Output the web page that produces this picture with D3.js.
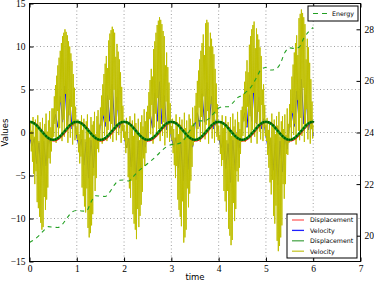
<!DOCTYPE html>
<html>
<head>
<meta charset="utf-8">
<script src="https://d3js.org/d3.v7.min.js"></script>
<style>
  body { margin: 0; background: #fff; }
  .label { font-family: "DejaVu Sans", sans-serif; font-size: 8.5px; }
  .leg { font-family: "DejaVu Sans", sans-serif; font-size: 6.3px; }
</style>
</head>
<body>
<div id="chart"></div>
<script>
// sample steps: displacement / blue velocity 0.05 s, yellow velocity 0.0125 s, energy 0.1 s
var xTicks = [0, 1, 2, 3, 4, 5, 6, 7];
var yTicks = [-15, -10, -5, 0, 5, 10, 15];
var y2Ticks = [20, 22, 24, 26, 28];

var dispRed = [
  1.23, 1.20, 1.08, 0.86, 0.58, 0.25, -0.09, -0.40, -0.66, -0.84, -0.93, -0.90, -0.78, -0.56, -0.28, 0.05, 0.39, 0.70, 0.96, 1.14,
  1.23, 1.20, 1.08, 0.86, 0.58, 0.25, -0.09, -0.40, -0.66, -0.84, -0.93, -0.90, -0.78, -0.56, -0.28, 0.05, 0.39, 0.70, 0.96, 1.14,
  1.23, 1.20, 1.08, 0.86, 0.58, 0.25, -0.09, -0.40, -0.66, -0.84, -0.93, -0.90, -0.78, -0.56, -0.28, 0.05, 0.39, 0.70, 0.96, 1.14,
  1.23, 1.20, 1.08, 0.86, 0.58, 0.25, -0.09, -0.40, -0.66, -0.84, -0.93, -0.90, -0.78, -0.56, -0.28, 0.05, 0.39, 0.70, 0.96, 1.14,
  1.23, 1.20, 1.08, 0.86, 0.58, 0.25, -0.09, -0.40, -0.66, -0.84, -0.93, -0.90, -0.78, -0.56, -0.28, 0.05, 0.39, 0.70, 0.96, 1.14,
  1.23, 1.20, 1.08, 0.86, 0.58, 0.25, -0.09, -0.40, -0.66, -0.84, -0.93, -0.90, -0.78, -0.56, -0.28, 0.05, 0.39, 0.70, 0.96, 1.14,
  1.23
];
var dispGreen = [
  1.25, 1.20, 1.05, 0.82, 0.52, 0.20, -0.12, -0.42, -0.65, -0.80, -0.85, -0.80, -0.65, -0.42, -0.12, 0.20, 0.52, 0.82, 1.05, 1.20,
  1.25, 1.20, 1.05, 0.82, 0.52, 0.20, -0.12, -0.42, -0.65, -0.80, -0.85, -0.80, -0.65, -0.42, -0.12, 0.20, 0.52, 0.82, 1.05, 1.20,
  1.25, 1.20, 1.05, 0.82, 0.52, 0.20, -0.12, -0.42, -0.65, -0.80, -0.85, -0.80, -0.65, -0.42, -0.12, 0.20, 0.52, 0.82, 1.05, 1.20,
  1.25, 1.20, 1.05, 0.82, 0.52, 0.20, -0.12, -0.42, -0.65, -0.80, -0.85, -0.80, -0.65, -0.42, -0.12, 0.20, 0.52, 0.82, 1.05, 1.20,
  1.25, 1.20, 1.05, 0.82, 0.52, 0.20, -0.12, -0.42, -0.65, -0.80, -0.85, -0.80, -0.65, -0.42, -0.12, 0.20, 0.52, 0.82, 1.05, 1.20,
  1.25, 1.20, 1.05, 0.82, 0.52, 0.20, -0.12, -0.42, -0.65, -0.80, -0.85, -0.80, -0.65, -0.42, -0.12, 0.20, 0.52, 0.82, 1.05, 1.20,
  1.25
];
var velBlue = [
  -0.4, -1.6, -0.7, -3.6, -1.2, -5.0, -1.0, -3.9, -0.4, -1.5, 1.0, 2.1, 0.6, 4.2, 1.2, 5.4, 0.9, 3.9, 0.4, 1.5,
  -0.5, -1.7, -0.8, -3.8, -1.1, -5.3, -0.9, -4.1, -0.3, -1.6, 1.1, 2.2, 0.7, 4.3, 1.3, 5.6, 0.8, 4.1, 0.5, 1.4,
  -0.4, -1.8, -0.7, -4.0, -1.3, -5.5, -1.0, -4.2, -0.4, -1.7, 1.0, 2.3, 0.5, 4.6, 1.3, 5.9, 1.0, 4.3, 0.3, 1.6,
  -0.6, -1.7, -0.6, -4.1, -1.1, -5.6, -0.8, -4.3, -0.3, -1.7, 0.9, 2.3, 0.7, 4.5, 1.2, 5.8, 0.9, 4.2, 0.4, 1.5,
  -0.5, -1.8, -0.8, -4.2, -1.3, -5.8, -0.9, -4.4, -0.4, -1.8, 1.0, 2.3, 0.6, 4.4, 1.3, 5.7, 1.0, 4.1, 0.4, 1.6,
  -0.4, -1.9, -0.7, -4.4, -1.2, -6.1, -1.0, -4.6, -0.4, -1.9, 1.1, 2.5, 0.7, 4.8, 1.4, 6.2, 1.0, 4.4, 0.3, 1.7,
  -0.4
];
var velYellow = [
  0.8, -0.8, 1.2, -2.2, 0.2, -3.4, 1.8, -4.8, -0.5, -6.0, 1.5, -4.5, 0.6, -8.1, 2.0, -8.8, -1.0, -9.8, 1.2, -10.5,
  0.4, -11.3, 1.7, -11.0, -0.3, -7.5, 1.0, -9.0, 2.2, -7.8, 0.1, -6.4, 1.4, -3.0, 2.5, -3.6, 0.6, -2.2, 2.8, -1.0,
  2.8, -0.5, 4.2, 1.0, 5.5, -1.2, 6.6, 2.5, 7.8, -0.8, 8.7, 0.5, 9.5, 3.5, 10.4, -1.0, 11.2, 1.5, 11.6, -0.5,
  12.0, 4.5, 11.7, 0.2, 11.3, -1.2, 10.6, 2.0, 10.0, -0.6, 9.2, 3.0, 8.3, -1.4, 6.8, 0.8, 5.2, -0.9, 3.0, -0.3,

  0.6, -0.85, 1.5, -2.3, -0.2, -3.6, 1.1, -2.8, 2.0, -6.4, 0.3, -7.4, 1.6, -8.6, -0.8, -9.3, 1.3, -6.5, 2.1, -11.1,
  0.5, -12.2, -0.6, -11.7, 1.8, -10.8, 0.9, -9.5, 1.3, -5.0, 2.4, -6.8, -0.2, -5.3, 1.9, -1.9, 2.6, -2.3, 0.9, -1.1,
  2.9, 0.8, 4.3, -1.3, 5.6, 2.0, 6.8, -0.4, 8.0, 1.2, 8.9, -1.0, 7.5, 0.3, 10.7, 3.8, 11.5, -0.7, 11.9, 1.0,
  12.3, -1.1, 12.0, 5.0, 11.6, 0.5, 8.8, -0.9, 10.3, 2.6, 9.4, -0.3, 8.5, 1.4, 7.0, -1.2, 5.3, 0.2, 3.1, -0.6,

  0.9, -0.9, 0.1, -2.4, 1.7, -1.8, 1.0, -5.2, -0.7, -6.5, 1.9, -7.6, 0.8, -5.6, 1.4, -9.5, -0.4, -10.6, 2.2, -11.3,
  1.1, -12.4, 0.2, -8.9, 1.6, -11.0, -0.9, -9.7, 1.2, -8.4, 2.0, -6.9, 0.7, -3.0, 2.7, -3.9, 1.3, -2.4, 2.4, -1.1,
  3.1, -0.8, 4.7, 1.6, 6.1, -0.2, 7.4, 3.2, 6.5, -1.3, 9.7, 0.6, 10.6, 2.2, 11.6, -0.5, 12.5, 4.0, 13.0, 0.4,
  13.4, -1.0, 13.1, 2.8, 12.6, -0.4, 11.8, 1.2, 11.2, -1.5, 7.8, 3.6, 9.3, -0.6, 7.6, 0.9, 5.8, -1.1, 3.4, -0.2,

  0.7, -0.9, 1.6, -2.4, 0.4, -3.8, -0.6, -5.3, 2.1, -3.9, 1.2, -7.8, -0.2, -9.0, 1.8, -9.8, 0.9, -10.9, 1.5, -8.0,
  -0.7, -12.8, 2.3, -12.2, 0.5, -11.3, 1.4, -6.5, 0.0, -8.7, 2.1, -7.1, 1.6, -5.6, 0.8, -4.0, 2.9, -1.5, 1.1, -1.1,
  3.1, 1.2, 4.6, -0.9, 6.0, 0.4, 7.2, 2.9, 8.5, -1.1, 9.5, 1.8, 10.4, -0.3, 11.4, 4.2, 9.0, -0.8, 12.7, 0.9,
  13.1, 2.5, 12.8, -1.3, 10.0, 0.6, 11.6, 3.3, 10.9, -0.7, 10.0, 1.0, 9.1, -1.2, 7.4, 2.2, 5.7, -0.5, 3.3, -0.9,

  0.8, -0.9, -0.3, -2.5, 1.3, -3.9, 2.0, -3.2, 0.5, -6.8, 1.0, -8.0, 1.9, -9.2, -0.9, -6.8, 1.2, -11.2, 0.6, -12.0,
  1.8, -13.1, -0.4, -12.5, 2.2, -8.2, 0.7, -10.3, 1.5, -8.9, -0.1, -4.5, 2.4, -5.7, 1.2, -4.1, 0.4, -2.5, 2.6, -1.1,
  3.0, -0.4, 4.5, 1.3, 5.9, -1.1, 7.1, 0.7, 8.4, 3.0, 7.0, -0.6, 10.2, 1.9, 11.2, -1.2, 12.0, 0.3, 12.5, 4.6,
  12.9, -0.5, 9.8, 1.1, 12.1, -1.3, 11.4, 2.4, 10.8, 0.1, 9.9, -0.8, 8.9, 3.2, 5.0, -1.0, 5.6, 0.6, 3.2, -0.4,

  0.9, -1.0, 1.7, -2.6, 0.3, -4.1, 1.2, -5.8, -0.6, -7.2, 2.2, -5.5, 0.7, -9.7, 1.5, -10.6, -0.2, -8.5, 1.9, -12.6,
  0.8, -13.8, 2.4, -13.2, -0.5, -12.2, 1.3, -10.8, 1.9, -6.0, 0.4, -7.7, 2.1, -6.0, -0.3, -2.5, 2.8, -2.6, 1.0, -1.2,
  3.3, 0.6, 5.0, -1.0, 6.5, 2.3, 7.9, -0.3, 9.3, 1.0, 10.4, -1.4, 11.3, 3.8, 9.0, 0.2, 13.3, -0.9, 13.8, 1.7,
  14.3, -0.4, 13.9, 5.2, 13.4, -1.1, 12.6, 0.5, 8.5, 2.7, 10.9, -0.8, 9.9, 1.2, 8.1, -1.3, 6.2, 0.4, 3.6, -0.7,

  0.9
];
var energy = [
  19.74, 19.85, 20.00, 20.20, 20.35, 20.33, 20.32, 20.45, 20.70, 20.92,
  20.98, 20.96, 20.95, 21.30, 21.55, 21.53, 21.52, 21.70, 21.98, 22.15,
  22.16, 22.12, 22.30, 22.50, 22.65, 22.80, 22.95, 23.12, 23.30, 23.45,
  23.53, 23.55, 23.60, 23.80, 24.10, 24.35, 24.45, 24.45, 24.55, 24.75,
  24.95, 25.00, 25.00, 25.15, 25.35, 25.45, 25.60, 25.80, 26.13, 26.45,
  26.52, 26.42, 26.45, 26.65, 27.10, 27.28, 27.26, 27.30, 27.65, 27.90,
  28.07
];

var W = 374, H = 282;
var pLeft = 29.5, pRight = 360.5, pTop = 3.5, pBottom = 261.5;

var svg = d3.select("#chart").append("svg")
  .attr("width", W).attr("height", H);

var x = d3.scaleLinear().domain([0, 7]).range([pLeft, pRight]);
var y = d3.scaleLinear().domain([-15, 15]).range([pBottom, pTop]);
var y2 = d3.scaleLinear().domain([19, 29]).range([pBottom, pTop]);

svg.append("clipPath").attr("id", "clip")
  .append("rect").attr("x", pLeft).attr("y", pTop)
  .attr("width", pRight - pLeft).attr("height", pBottom - pTop);

// grid
var grid = svg.append("g").attr("stroke", "#888").attr("stroke-width", 0.8)
  .attr("stroke-dasharray", "1,2.5");
grid.selectAll("line.gx").data(xTicks.slice(1, -1)).enter().append("line")
  .attr("x1", function(d) { return x(d); }).attr("x2", function(d) { return x(d); })
  .attr("y1", pTop).attr("y2", pBottom);
grid.selectAll("line.gy").data(yTicks.slice(1, -1)).enter().append("line")
  .attr("y1", function(d) { return y(d); }).attr("y2", function(d) { return y(d); })
  .attr("x1", pLeft).attr("x2", pRight);

var plot = svg.append("g").attr("clip-path", "url(#clip)");

function series(arr, step) {
  return arr.map(function(v, i) { return [i * step, v]; });
}
var line = d3.line().x(function(d) { return x(d[0]); }).y(function(d) { return y(d[1]); });
var smooth = d3.line().curve(d3.curveNatural)
  .x(function(d) { return x(d[0]); }).y(function(d) { return y(d[1]); });
var eLine = d3.line().curve(d3.curveMonotoneX)
  .x(function(d) { return x(d[0]); }).y(function(d) { return y2(d[1]); });

plot.append("path").datum(series(velBlue, 0.05))
  .attr("d", line).attr("fill", "none").attr("stroke", "#0000ff").attr("stroke-width", 1);
plot.append("path").datum(series(velYellow, 0.0125))
  .attr("d", line).attr("fill", "none").attr("stroke", "#bfbf00").attr("stroke-width", 1);
plot.append("path").datum(series(dispRed, 0.05))
  .attr("d", smooth).attr("fill", "none").attr("stroke", "#ff0000").attr("stroke-width", 2);
plot.append("path").datum(series(dispGreen, 0.05))
  .attr("d", smooth).attr("fill", "none").attr("stroke", "#1f9a1f").attr("stroke-width", 2.6);
plot.selectAll("circle.m").data(series(dispGreen, 0.05)).enter().append("circle")
  .attr("cx", function(d) { return x(d[0]); }).attr("cy", function(d) { return y(d[1]); })
  .attr("r", 1.1).attr("fill", "#006000");
plot.append("path").datum(series(energy, 0.1))
  .attr("d", eLine).attr("fill", "none").attr("stroke", "#22a022").attr("stroke-width", 1.1)
  .attr("stroke-dasharray", "4,4");

// axes, ticks inward
function styleAxis(g) {
  g.attr("font-family", "'Liberation Serif', 'DejaVu Serif', serif").attr("font-size", 9.5);
  g.select(".domain").remove();
}
svg.append("g").attr("transform", "translate(0," + pBottom + ")")
  .call(d3.axisBottom(x).tickValues(xTicks).tickSize(-4).tickPadding(4).tickFormat(d3.format("d")))
  .call(styleAxis);
svg.append("g").attr("transform", "translate(0," + pTop + ")")
  .call(d3.axisTop(x).tickValues(xTicks).tickSize(-4).tickFormat(""))
  .call(styleAxis);
svg.append("g").attr("transform", "translate(" + pLeft + ",0)")
  .call(d3.axisLeft(y).tickValues(yTicks).tickSize(-4).tickPadding(4))
  .call(styleAxis);
svg.append("g").attr("transform", "translate(" + pRight + ",0)")
  .call(d3.axisRight(y2).tickValues(y2Ticks).tickSize(-4).tickPadding(4))
  .call(styleAxis);
svg.append("rect").attr("x", pLeft).attr("y", pTop)
  .attr("width", pRight - pLeft).attr("height", pBottom - pTop)
  .attr("fill", "none").attr("stroke", "#000").attr("stroke-width", 1);

svg.append("text").attr("class", "label").attr("x", (pLeft + pRight) / 2).attr("y", 280)
  .attr("text-anchor", "middle").text("time");
svg.append("text").attr("class", "label")
  .attr("transform", "translate(8," + ((pTop + pBottom) / 2) + ") rotate(-90)")
  .attr("text-anchor", "middle").text("Values");

// energy legend
var lg1 = svg.append("g");
lg1.append("rect").attr("x", 308).attr("y", 6).attr("width", 50).attr("height", 15)
  .attr("fill", "#fff").attr("stroke", "#000").attr("stroke-width", 1);
lg1.append("line").attr("x1", 313).attr("x2", 327).attr("y1", 13.5).attr("y2", 13.5)
  .attr("stroke", "#22a022").attr("stroke-width", 1.1).attr("stroke-dasharray", "5,4");
lg1.append("text").attr("class", "leg").attr("x", 332).attr("y", 16).text("Energy");

// series legend
var legNames = ["Displacement", "Velocity", "Displacement", "Velocity"];
var legColors = ["#ff6060", "#2020ff", "#50a850", "#c8c830"];
var lg2 = svg.append("g");
lg2.append("rect").attr("x", 287).attr("y", 214).attr("width", 70).attr("height", 44)
  .attr("fill", "#fff").attr("stroke", "#000").attr("stroke-width", 1);
legNames.forEach(function(n, i) {
  var yy = 220 + i * 10.4;
  lg2.append("line").attr("x1", 292).attr("x2", 304).attr("y1", yy).attr("y2", yy)
    .attr("stroke", legColors[i]).attr("stroke-width", 1.3);
  lg2.append("text").attr("class", "leg").attr("x", 310).attr("y", yy + 2.3).text(n);
});
</script>
</body>
</html>
